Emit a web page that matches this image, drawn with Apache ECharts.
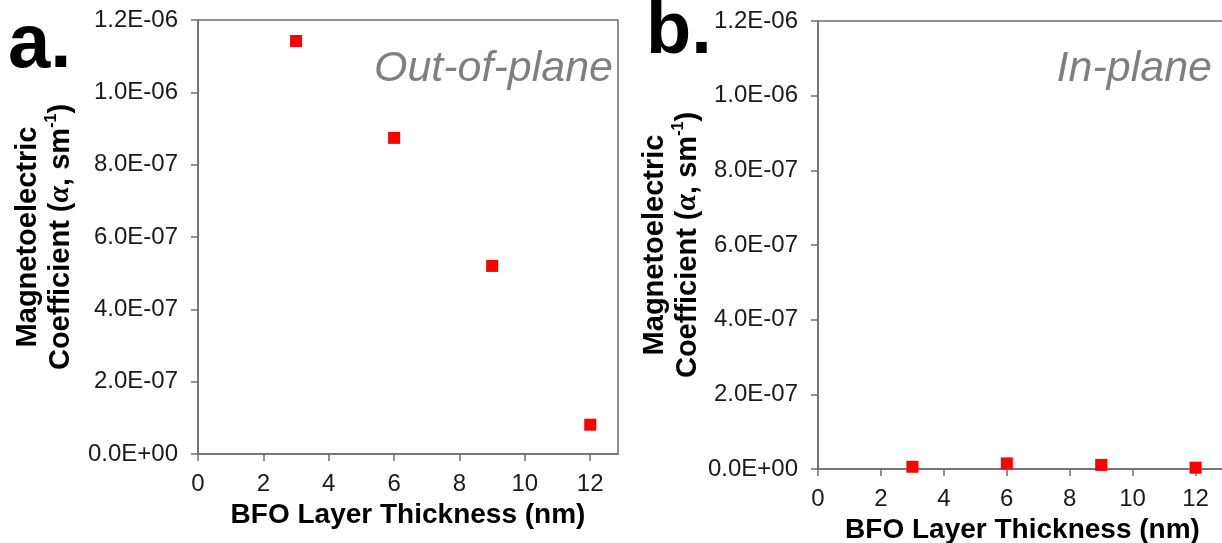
<!DOCTYPE html>
<html>
<head>
<meta charset="utf-8">
<script src="https://cdn.jsdelivr.net/npm/echarts@6/dist/echarts.min.js"></script>
<style>
html,body{margin:0;padding:0;background:#fff;}
#chart{width:1222px;height:543px;}
</style>
</head>
<body>
<div id="chart"></div>
<script>
// Data
const thickness = [3, 6, 9, 12];
const outOfPlane = [1.142e-6, 0.874e-6, 0.520e-6, 0.081e-6];
const inPlane = [0.006e-6, 0.015e-6, 0.011e-6, 0.0035e-6];
const xTicks = [0, 2, 4, 6, 8, 10, 12];
const yTicks = [0, 2e-7, 4e-7, 6e-7, 8e-7, 1e-6, 1.2e-6];
const panelLetters = ['a.', 'b.'];
const panelTitles = ['Out-of-plane', 'In-plane'];
const xTitle = 'BFO Layer Thickness (nm)';

const FONT = '"Liberation Sans", Arial, sans-serif';
const AXIS_COLOR = '#6e6e6e';

function sci(v) {
  let s = Number(v).toExponential(1);
  let [m, e] = s.split('e');
  let sign = e[0] === '-' ? '-' : '+';
  let d = e.replace(/[+-]/, '');
  if (d.length < 2) d = '0' + d;
  return m + 'E' + sign + d;
}

function pairs(xs, ys) { return xs.map((x, i) => [x, ys[i]]); }

const chart = echarts.init(document.getElementById('chart'), null, {renderer: 'canvas'});

function xAxisDef(gridIndex, max) {
  return {
    type: 'value', gridIndex: gridIndex, min: xTicks[0], max: max, interval: 2,
    name: xTitle, nameLocation: 'middle', nameGap: 46,
    nameTextStyle: {fontFamily: FONT, fontWeight: 'bold', fontSize: 28, color: '#000'},
    axisLine: {show: true, onZero: false, lineStyle: {color: AXIS_COLOR, width: 1.5}},
    axisTick: {show: true, inside: false, length: 7, lineStyle: {color: AXIS_COLOR, width: 1.5}},
    axisLabel: {fontFamily: FONT, fontSize: 24, color: '#1a1a1a', margin: 18, showMaxLabel: false,
      formatter: v => (xTicks.indexOf(v) >= 0 ? String(v) : '')},
    splitLine: {show: false}
  };
}

function yAxisDef(gridIndex, nameGap) {
  return {
    type: 'value', gridIndex: gridIndex, min: yTicks[0], max: yTicks[yTicks.length - 1], interval: 2e-7,
    name: '{t|Magnetoelectric}\n{t|Coefficient (}{g|α}{t|, sm}{s|-1}{t|)}',
    nameLocation: 'middle', nameRotate: 90, nameGap: nameGap,
    nameTextStyle: {
      fontFamily: FONT, fontWeight: 'bold', fontSize: 29, color: '#000', lineHeight: 33,
      rich: {
        t: {fontFamily: FONT, fontWeight: 'bold', fontSize: 29, color: '#000', lineHeight: 33},
        g: {fontFamily: '"Liberation Serif", serif', fontStyle: 'italic', fontWeight: 'bold', fontSize: 30, color: '#000', lineHeight: 33},
        s: {fontFamily: FONT, fontWeight: 'bold', fontSize: 16, color: '#000', lineHeight: 33, verticalAlign: 'top', padding: [0, 0, 10, 0]}
      }
    },
    axisLine: {show: true, lineStyle: {color: AXIS_COLOR, width: 1.5}},
    axisTick: {show: true, inside: false, length: 7, lineStyle: {color: AXIS_COLOR, width: 1.5}},
    axisLabel: {fontFamily: FONT, fontSize: 24, color: '#1a1a1a', margin: 20, formatter: v => sci(v)},
    splitLine: {show: false}
  };
}

const option = {
  backgroundColor: '#ffffff',
  animation: false,
  grid: [
    {left: 198, top: 20, width: 420, height: 434, show: true, borderColor: AXIS_COLOR, borderWidth: 1.5,
      backgroundColor: 'transparent', containLabel: false, outerBoundsMode: 'none'},
    {left: 818, top: 21, width: 409, height: 448, show: true, borderColor: AXIS_COLOR, borderWidth: 1.5,
      backgroundColor: 'transparent', containLabel: false, outerBoundsMode: 'none'}
  ],
  xAxis: [xAxisDef(0, 12.85), xAxisDef(1, 13)],
  yAxis: [yAxisDef(0, 121), yAxisDef(1, 114)],
  series: [
    {type: 'scatter', xAxisIndex: 0, yAxisIndex: 0, data: pairs(thickness, outOfPlane),
      symbol: 'rect', symbolSize: 12, itemStyle: {color: '#ff0000', opacity: 1}},
    {type: 'scatter', xAxisIndex: 1, yAxisIndex: 1, data: pairs(thickness, inPlane),
      symbol: 'rect', symbolSize: 12, itemStyle: {color: '#ff0000', opacity: 1}}
  ],
  graphic: [
    {type: 'text', left: 8, top: 8, style: {text: panelLetters[0], font: 'bold 76px "Liberation Sans", Arial, sans-serif', fill: '#000'}},
    {type: 'text', left: 646, top: -4, style: {text: panelLetters[1], font: 'bold 74px "Liberation Sans", Arial, sans-serif', fill: '#000'}},
    {type: 'text', right: 1222 - 613, top: 48, style: {text: panelTitles[0], font: 'italic 43px "Liberation Sans", Arial, sans-serif', fill: '#7f7f7f'}},
    {type: 'text', right: 10, top: 48, style: {text: panelTitles[1], font: 'italic 43px "Liberation Sans", Arial, sans-serif', fill: '#7f7f7f'}}
  ]
};
chart.setOption(option);
</script>
</body>
</html>
